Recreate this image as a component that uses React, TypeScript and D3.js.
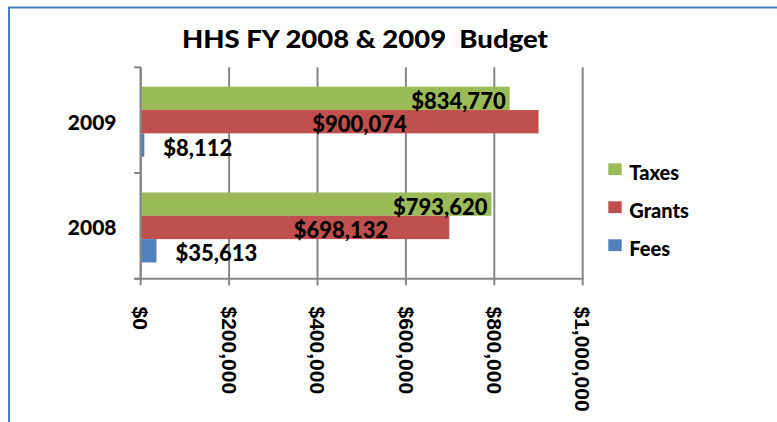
import React from "react";
import * as d3 from "d3";

const title = "HHS FY 2008 & 2009  Budget";
const categories = ["2009", "2008"];
const seriesNames = ["Taxes", "Grants", "Fees"];
const taxes = [834770, 793620];
const grants = [900074, 698132];
const fees = [8112, 35613];
const xTicks = [0, 200000, 400000, 600000, 800000, 1000000];
const xTickLabels = ["$0", "$200,000", "$400,000", "$600,000", "$800,000", "$1,000,000"];

const colors: Record<string, string> = { Taxes: "#9BBB59", Grants: "#C0504D", Fees: "#4F81BD" };
const seriesValues: Record<string, number[]> = { Taxes: taxes, Grants: grants, Fees: fees };

const W = 777;
const H = 422;
const plot = { left: 140.7, right: 582.7, top: 67.3, bottom: 278.8 };
const LABEL_FONT = "Lato, 'Open Sans', sans-serif";
const AXIS_FONT = "'Liberation Sans', Arial, sans-serif";
const gridColor = "#868686";

const fmt = (v: number) => "$" + d3.format(",")(v);

export default function App() {
  const x = d3.scaleLinear().domain([0, 1000000]).range([plot.left, plot.right]);
  const yCat = d3.scaleBand<string>().domain(categories).range([plot.top, plot.bottom]);
  const groupOffset = 19.4;
  const groupHeight = 70;

  const innerFor = (cat: string) =>
    d3
      .scaleBand<string>()
      .domain(seriesNames)
      .range([(yCat(cat) as number) + groupOffset, (yCat(cat) as number) + groupOffset + groupHeight]);

  // label placement per series (layout, not data)
  const grantsLabelCenters = [359.5, 341];

  return (
    <svg
      width={W}
      height={H}
      style={{ position: "absolute", left: 0, top: 0, background: "#fff" }}
    >
      <rect x={0} y={0} width={W} height={H} fill="#fff" />
      <rect x={9} y={7.5} width={W + 20} height={H + 20} fill="none" stroke="#4A7EBB" strokeWidth={2} />

      <text
        x={182}
        y={48.3}
        textLength={366}
        lengthAdjust="spacingAndGlyphs"
        fontFamily={LABEL_FONT}
        fontWeight={900}
        fontSize={24}
        style={{ whiteSpace: "pre" }}
        fill="#000"
      >
        {title}
      </text>

      {/* gridlines + bottom ticks */}
      {xTicks.map((t) => (
        <line
          key={"g" + t}
          x1={x(t)}
          x2={x(t)}
          y1={plot.top}
          y2={plot.bottom + 6.5}
          stroke={gridColor}
          strokeWidth={2}
        />
      ))}

      {/* bars */}
      {categories.map((cat, ci) => {
        const inner = innerFor(cat);
        return seriesNames.map((s) => (
          <rect
            key={cat + s}
            x={x(0)}
            y={inner(s)}
            width={x(seriesValues[s][ci]) - x(0)}
            height={inner.bandwidth()}
            fill={colors[s]}
          />
        ));
      })}

      {/* axes */}
      <line x1={plot.left} x2={plot.left} y1={plot.top} y2={plot.bottom} stroke={gridColor} strokeWidth={2} />
      <line x1={plot.left - 6.5} x2={plot.right + 1} y1={plot.bottom} y2={plot.bottom} stroke={gridColor} strokeWidth={2} />
      {[plot.top, (yCat("2008") as number), plot.bottom].map((yy, i) => (
        <line key={"yt" + i} x1={plot.left - 6.5} x2={plot.left} y1={yy} y2={yy} stroke={gridColor} strokeWidth={2} />
      ))}

      {/* data labels */}
      {categories.map((cat, ci) => {
        const inner = innerFor(cat);
        const bw = inner.bandwidth();
        return seriesNames.map((s) => {
          const v = seriesValues[s][ci];
          const yBase = (inner(s) as number) + bw - 1;
          let xx = 0;
          let anchor: "start" | "middle" | "end" = "start";
          if (s === "Taxes") {
            xx = x(v) - 4;
            anchor = "end";
          } else if (s === "Grants") {
            xx = grantsLabelCenters[ci];
            anchor = "middle";
          } else {
            xx = x(v) + 19;
            anchor = "start";
          }
          return (
            <text
              key={"l" + cat + s}
              x={xx}
              y={yBase}
              textAnchor={anchor}
              fontFamily={LABEL_FONT}
              fontWeight={900}
              fontSize={22}
              fill="#000"
            >
              {fmt(v)}
            </text>
          );
        });
      })}

      {/* category labels */}
      {categories.map((cat) => (
        <text
          key={"c" + cat}
          x={116.5}
          y={(yCat(cat) as number) + yCat.bandwidth() / 2 + 9.5}
          textAnchor="end"
          fontFamily={LABEL_FONT}
          fontWeight={900}
          fontSize={21}
          fill="#000"
        >
          {cat}
        </text>
      ))}

      {/* x tick labels rotated */}
      {xTicks.map((t, i) => (
        <text
          key={"xl" + t}
          transform={`translate(${x(t)},306.5) rotate(90)`}
          dy="0.35em"
          textAnchor="start"
          fontFamily={AXIS_FONT}
          fontWeight="bold"
          fontSize={21}
          fill="#000"
        >
          {xTickLabels[i]}
        </text>
      ))}

      {/* legend */}
      {seriesNames.map((s, i) => (
        <g key={"lg" + s} transform={`translate(608.3, ${163.3 + i * 38})`}>
          <rect x={0} y={0} width={13.4} height={11.8} fill={colors[s]} />
          <text
            x={21}
            y={16.7}
            fontFamily={LABEL_FONT}
            fontWeight={900}
            fontSize={20}
            fill="#000"
          >
            {s}
          </text>
        </g>
      ))}
    </svg>
  );
}
